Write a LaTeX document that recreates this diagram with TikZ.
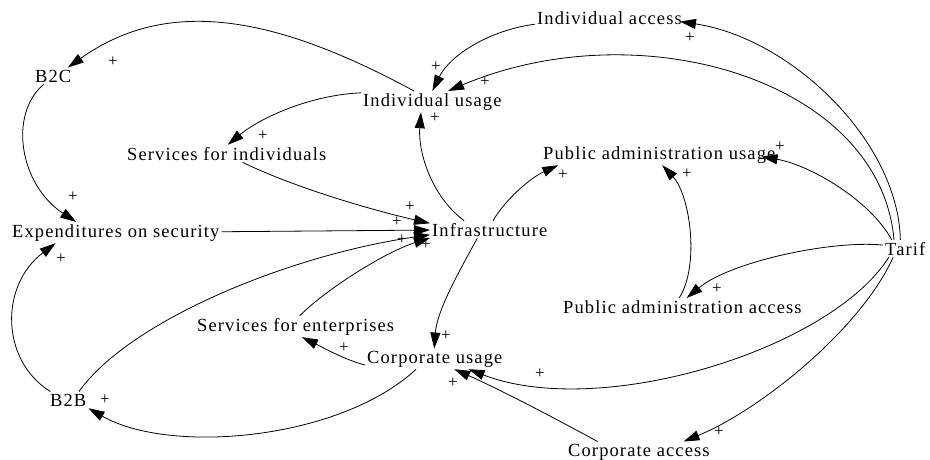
\documentclass[tikz,border=0pt]{standalone}
\usepackage{fontspec}
\setmainfont{Liberation Serif}[LetterSpace=6]
\usetikzlibrary{arrows.meta}
\begin{document}
\begin{tikzpicture}[x=1pt,y=-1pt,
  lbl/.style={font=\fontsize{18.5}{20}\selectfont, inner sep=2pt, anchor=base west},
  plus/.style={font=\fontsize{17}{18}\selectfont, inner sep=0pt},
  link/.style={line width=0.8pt, -{Triangle[length=16pt,width=10pt]}}]
\useasboundingbox (0,0) rectangle (930,459);
% nodes
\node[lbl] (ia) at (535,24) {Individual access};
\node[lbl] (b2c) at (33,82) {B2C};
\node[lbl] (iu) at (361,106) {Individual usage};
\node[lbl] (sfi) at (125,160) {Services for individuals};
\node[lbl] (pau) at (541,159) {Public administration usage};
\node[lbl] (exp) at (10,237) {Expenditures on security};
\node[lbl] (inf) at (430,236) {Infrastructure};
\node[lbl] (tarif) at (883,255) {Tarif};
\node[lbl] (paa) at (561,313) {Public administration access};
\node[lbl] (sfe) at (195,331) {Services for enterprises};
\node[lbl] (cu) at (365,363) {Corporate usage};
\node[lbl] (b2b) at (48,406) {B2B};
\node[lbl] (ca) at (566,456) {Corporate access};
% connectors
\draw[link] (iu.150) .. controls (281,19) and (171,-6) .. (b2c.30);
\draw[link] (b2c.221) .. controls (8,115) and (20,185) .. (exp.165);
\draw[link] (iu.173) .. controls (310,95) and (260,118) .. (sfi.83);
\draw[link] (sfi.331) .. controls (300,190) and (380,212) .. (inf.174);
\draw[link] (exp) -- (inf);
\draw[link] (b2b.38) .. controls (130,320) and (290,255) .. (inf.185);
\draw[link] (sfe.69) .. controls (325,290) and (385,252) .. (inf.188);
\draw[link] (inf.161) .. controls (430,195) and (418,150) .. (iu.223);
\draw[link] (inf.70) .. controls (505,200) and (530,178) .. (pau.186);
\draw[link] (inf.215) .. controls (460,270) and (437,310) .. (cu.93);
\draw[link] (cu.185) .. controls (345,360) and (320,346) .. (sfe.300);
\draw[link] (cu.209) .. controls (340,440) and (170,455) .. (b2b.south east);
\draw[link] (b2b.155) .. controls (0,360) and (0,285) .. (exp.190);
\draw[link] (paa.110) .. controls (700,265) and (690,195) .. (pau.286);
\draw[link] (tarif.119) .. controls (898,140) and (790,38) .. ([xshift=-4pt]ia.-3);
\draw[link] (tarif.142) .. controls (880,80) and (640,10) .. (iu.34);
\draw[link] (ia.185) .. controls (490,30) and (450,55) .. (iu.north);
\draw[link] (tarif.147) .. controls (870,200) and (810,165) .. ([xshift=-16pt,yshift=-2pt]pau.east);
\draw[link] (tarif.171) .. controls (830,240) and (730,262) .. (paa.64);
\draw[link] (tarif.208) .. controls (830,350) and (600,420) .. (cu.343);
\draw[link] (tarif.216) .. controls (860,330) and (760,410) .. (ca.13);
\draw[link] (ca.166) .. controls (540,410) and (490,385) .. (cu.332);
% polarity labels
\node[plus] (p1) at (113,62) {+};
\node[plus] (p2) at (73,197) {+};
\node[plus] (p3) at (263,136) {+};
\node[plus] (p4) at (410,207) {+};
\node[plus] (p5) at (397,222) {+};
\node[plus] (p6) at (402,240) {+};
\node[plus] (p7) at (426,245) {+};
\node[plus] (p8) at (435,118) {+};
\node[plus] (p9) at (563,175) {+};
\node[plus] (p10) at (446,336) {+};
\node[plus] (p11) at (344,348) {+};
\node[plus] (p12) at (105,400) {+};
\node[plus] (p13) at (61,259) {+};
\node[plus] (p14) at (687,174) {+};
\node[plus] (p15) at (690,38) {+};
\node[plus] (p16) at (485,82) {+};
\node[plus] (p17) at (436,67) {+};
\node[plus] (p18) at (780,147) {+};
\node[plus] (p19) at (717,289) {+};
\node[plus] (p20) at (540,374) {+};
\node[plus] (p21) at (719,432) {+};
\node[plus] (p22) at (453,383) {+};
\end{tikzpicture}
\end{document}
